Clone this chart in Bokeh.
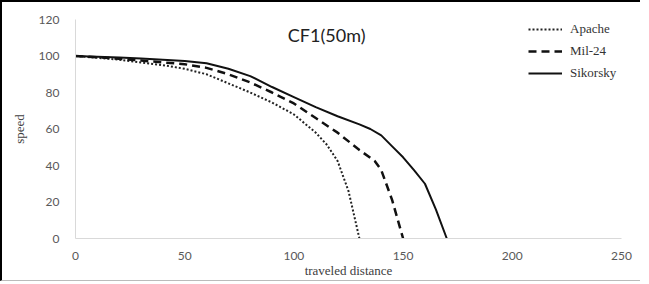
from bokeh.plotting import figure
from bokeh.models import Range1d, Legend, LegendItem, Label, FixedTicker
from bokeh.embed import file_html
from bokeh.resources import INLINE

# ---- data ----
apache_x = [0, 10, 20, 30, 40, 50, 60, 70, 80, 90, 100, 110, 115, 120, 125, 130]
apache_y = [100, 99, 98, 96.5, 95, 93, 90, 85, 80, 74.5, 68, 58, 51.5, 42.5, 26, 0]

mil_x = [0, 10, 20, 30, 40, 50, 60, 70, 80, 90, 100, 110, 120, 130, 137, 140, 145, 150]
mil_y = [100, 99.3, 98.5, 97.5, 96.5, 95.5, 93.5, 90, 85.5, 80, 74, 66, 58, 48.5, 42.5, 37.5, 21, 0]

sik_x = [0, 10, 20, 30, 40, 50, 60, 70, 80, 90, 100, 110, 120, 130, 135, 140, 145, 150, 155, 160, 165, 170]
sik_y = [100, 99.6, 99.2, 98.6, 98, 97.3, 96, 93, 89, 83, 77.5, 72, 67, 62.5, 60, 56.5, 50.5, 44.5, 37.5, 30, 16, 0]

x_ticks = [0, 50, 100, 150, 200, 250]
y_ticks = [0, 20, 40, 60, 80, 100, 120]
title_text = "CF1(50m)"
series_names = ["Apache", "Mil-24", "Sikorsky"]

p = figure(frame_width=546, frame_height=219, output_backend="svg", toolbar_location=None,
           x_range=Range1d(0, 250), y_range=Range1d(0, 120),
           min_border_left=66, min_border_right=19, min_border_top=17, min_border_bottom=34)
p.outline_line_color = None
p.grid.visible = False
p.background_fill_color = "white"
p.border_fill_color = "white"
p.styles = {"border-top": "2px solid #000", "border-left": "2px solid #000",
            "border-bottom": "1px solid #bbbbbb", "padding-left": "6px"}

for ax in (p.xaxis[0], p.yaxis[0]):
    ax.axis_line_color = "#d9d9d9"
    ax.axis_line_width = 1
    ax.major_tick_line_color = None
    ax.minor_tick_line_color = None
    ax.major_label_text_font = "Lato"
    ax.major_label_text_font_size = "12px"
    ax.major_label_text_color = "#595959"
    ax.axis_label_text_font = "Liberation Serif"
    ax.axis_label_text_font_size = "13px"
    ax.axis_label_text_font_style = "normal"
    ax.axis_label_text_color = "#404040"

p.xaxis.ticker = FixedTicker(ticks=x_ticks)
p.yaxis.ticker = FixedTicker(ticks=y_ticks)
p.xaxis.axis_label = "traveled distance"
p.yaxis.axis_label = "speed"
p.xaxis.major_label_standoff = 7
p.xaxis.axis_label_standoff = 0
p.yaxis.major_label_standoff = 10
p.yaxis.axis_label_standoff = 9

r1 = p.line(apache_x, apache_y, line_color="#222222", line_width=2, line_dash="2 2")
r2 = p.line(mil_x, mil_y, line_color="#111111", line_width=2.5, line_dash="8 5")
r3 = p.line(sik_x, sik_y, line_color="#111111", line_width=2, line_join="round")

legend = Legend(items=[LegendItem(label=series_names[0], renderers=[r1]),
                       LegendItem(label=series_names[1], renderers=[r2]),
                       LegendItem(label=series_names[2], renderers=[r3])],
                location=(453, 157), orientation="vertical",
                glyph_width=34, glyph_height=16, spacing=6, padding=0, margin=0,
                label_standoff=8, label_text_font="Liberation Serif",
                label_text_font_size="13px", label_text_color="#333333",
                background_fill_alpha=0, border_line_color=None)
p.add_layout(legend)

p.add_layout(Label(x=115, y=111.5, text=title_text, text_font="Lato", text_font_size="18px",
                   text_color="#222222", text_align="center", text_baseline="middle"))

open("out.html", "w").write(file_html(p, INLINE))
